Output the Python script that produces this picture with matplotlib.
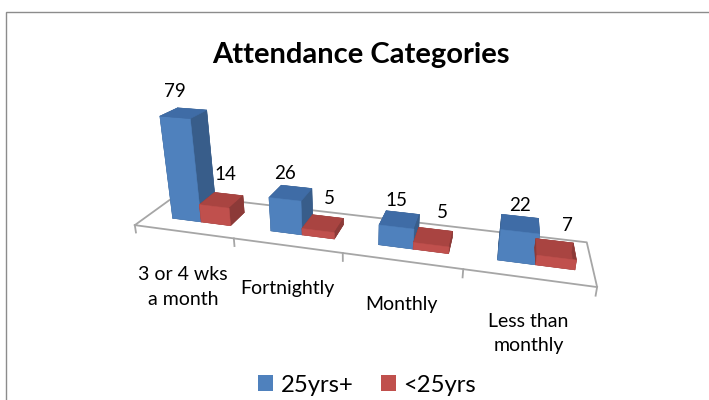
import matplotlib
matplotlib.use("Agg")
import matplotlib.pyplot as plt
from matplotlib.patches import Rectangle, Patch
from mpl_toolkits.mplot3d import proj3d

# ---------------- data ----------------
categories = ["3 or 4 wks\na month", "Fortnightly", "Monthly", "Less than\nmonthly"]
series_names = ["25yrs+", "<25yrs"]
values_25plus = [79, 26, 15, 22]
values_under25 = [14, 5, 5, 7]
title = "Attendance Categories"

plt.rcParams["font.family"] = ["Lato", "DejaVu Sans"]

W, H = 709, 400
fig = plt.figure(figsize=(W / 100, H / 100), dpi=100)
fig.patch.set_facecolor("white")

# chart border (only top/left visible in the reference crop)
fig.add_artist(Rectangle((5.5 / W, -0.05), 1.2, (H - 11.5) / H + 0.05,
                         transform=fig.transFigure, fill=False,
                         edgecolor="#8C8C8C", linewidth=1.0))

# ---------------- 3D axes ----------------
s = 482
cx, cy = 354, 167.5
left = cx - 0.5135 * s
bottom = (H - cy) - 0.5135 * s
ax = fig.add_axes([left / W, bottom / H, s / W, s / H], projection="3d")
ax.set_axis_off()
ax.patch.set_alpha(0)
ax.computed_zorder = False
n = len(categories)
ax.set_xlim(0, n)
ax.set_ylim(0, 1)
ax.set_zlim(0, 100)
ax.set_box_aspect((905, 165, 287))
ax.set_proj_type("persp", focal_length=0.22)
ax.view_init(elev=21, azim=-75, roll=0)

grid_col = "#A6A6A6"
# floor outline
ax.plot([0, n, n, 0, 0], [0, 0, 1, 1, 0], [0, 0, 0, 0, 0],
        color=grid_col, lw=1.3, zorder=1, clip_on=False)
# tick marks on category axis
for k in range(n + 1):
    ax.plot([k, k], [0, 0], [0, -6], color=grid_col, lw=1.3, zorder=1,
            clip_on=False)

blue = dict(front="#4F81BD", top="#3F6CA6", side="#385D8A")
red = dict(front="#C0504D", top="#A94441", side="#8C3A38")


def face_colors(c):
    # bar3d face order: -z, +z, -y, +y, -x, +x
    return [c["side"], c["top"], c["front"], c["side"], c["side"], c["side"]]


bar_w = 0.3
gap_left = 0.26
y0, depth = 0.3, 0.4
zo = 2
for i in range(n):
    for j, (vals, col) in enumerate([(values_25plus, blue), (values_under25, red)]):
        x0 = i + gap_left + bar_w * j
        fc = face_colors(col)
        coll = ax.bar3d(x0, y0, 0, bar_w, depth, vals[i], color=fc,
                        shade=False, edgecolor=fc, linewidth=0.4, zorder=zo)
        coll.set_clip_on(False)
        zo += 1

M = ax.get_proj()


def screen(x, y, z):
    xs, ys, _ = proj3d.proj_transform(x, y, z, M)
    return float(xs), float(ys)


# data labels
for i in range(n):
    for j, vals in enumerate([values_25plus, values_under25]):
        xc = i + gap_left + bar_w * j + bar_w / 2
        off = (0, 15) if j == 0 else (8, 19)
        ax.annotate(str(vals[i]), xy=screen(xc, y0, vals[i]), xycoords="data",
                    xytext=off, textcoords="offset points", ha="center",
                    va="baseline", fontsize=13.5, color="black",
                    annotation_clip=False)

# category labels
for i, cat in enumerate(categories):
    ax.annotate(cat, xy=screen(i + 0.5, 0, 0), xycoords="data",
                xytext=(0, -25), textcoords="offset points", ha="center",
                va="top", fontsize=14, linespacing=1.55, color="black",
                annotation_clip=False)

# title
fig.text(360.5 / W, 1 - 63 / H, title, ha="center", va="baseline",
         fontsize=21, fontweight="bold")

# legend
handles = [Patch(facecolor=blue["front"]), Patch(facecolor=red["front"])]
fig.legend(handles, series_names, loc="center",
           bbox_to_anchor=(367 / W, 1 - 385 / H), ncol=2, frameon=False,
           fontsize=17.2, handlelength=0.63, handleheight=0.63,
           handletextpad=0.33, columnspacing=1.13, borderaxespad=0,
           borderpad=0)

fig.savefig("out.png", dpi=100)
